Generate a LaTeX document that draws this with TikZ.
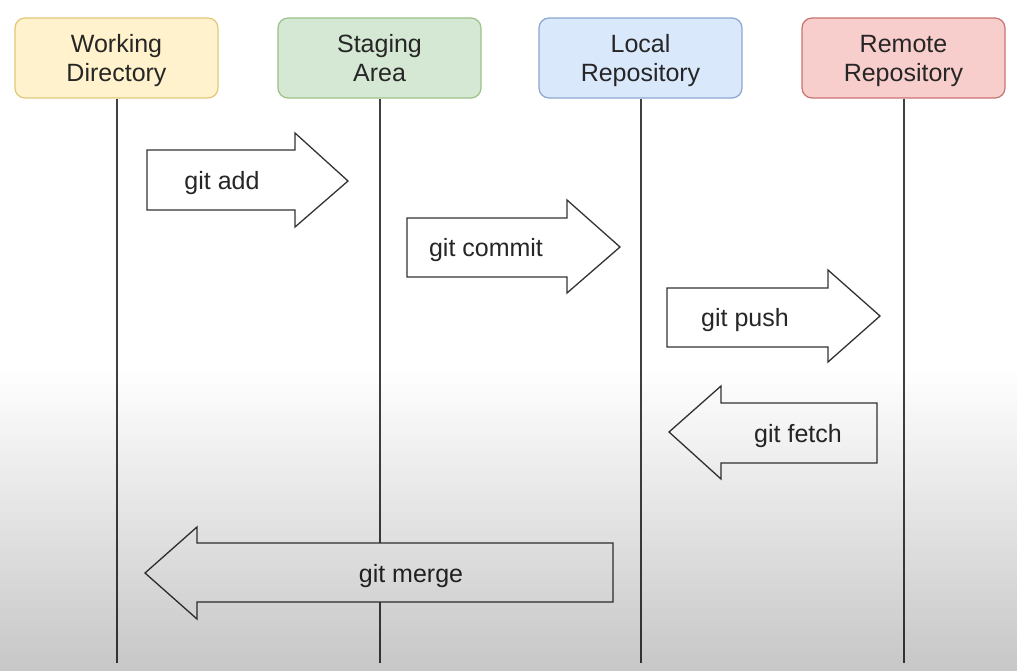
\documentclass[tikz,border=0pt]{standalone}
\usepackage{fontspec}
\setmainfont{Liberation Sans}
\definecolor{yfill}{HTML}{FFF2CC}\definecolor{ydraw}{HTML}{E0C878}
\definecolor{gfill}{HTML}{D5E8D4}\definecolor{gdraw}{HTML}{9CC28A}
\definecolor{bfill}{HTML}{DAE8FC}\definecolor{bdraw}{HTML}{8CA6D0}
\definecolor{rfill}{HTML}{F8CECC}\definecolor{rdraw}{HTML}{C87470}
\newcommand{\lblfont}{\fontsize{25}{29}\selectfont}
\begin{document}
\begin{tikzpicture}[x=1pt,y=-1pt,
  lane/.style={draw, rounded corners=10pt, line width=1.2pt, minimum width=203pt,
    minimum height=80pt, inner sep=0pt},
  lanetext/.style={align=center, font=\lblfont, text=black!85, inner sep=0pt, anchor=base},
  lifeline/.style={draw=black!75, line width=2pt},
  blockarrow/.style={draw=black!80, fill=white, line width=1.3pt, line join=miter},
  cmd/.style={font=\lblfont, text=black!85, inner sep=0pt, anchor=base}]
\useasboundingbox (0,0) rectangle (1017,671);
\fill[white] (0,0) rectangle (1017,671);
% lane heads
\node[lane, fill=yfill, draw=ydraw] (wd) at (116.5,58) {};
\node[lanetext] (wdt) at (116.5,82) {Working\\Directory};
\node[lane, fill=gfill, draw=gdraw] (sa) at (379.5,58) {};
\node[lanetext] (sat) at (379.5,82) {Staging\\Area};
\node[lane, fill=bfill, draw=bdraw] (lr) at (640.5,58) {};
\node[lanetext] (lrt) at (640.5,82) {Local\\Repository};
\node[lane, fill=rfill, draw=rdraw] (rr) at (903.5,58) {};
\node[lanetext] (rrt) at (903.5,82) {Remote\\Repository};
% where the merge arrow body hides the staging lifeline
\coordinate (mtop) at (0,543);
\coordinate (mbot) at (0,602);
% lifelines
\coordinate (bottom) at (0,663);
\draw[lifeline] (wd.south) -- (wd.south |- bottom);
\draw[lifeline] (sa.south) -- (sa.south |- mtop);
\draw[lifeline] (sa.south |- mbot) -- (sa.south |- bottom);
\draw[lifeline] (lr.south) -- (lr.south |- bottom);
\draw[lifeline] (rr.south) -- (rr.south |- bottom);
% block arrows
\draw[blockarrow] (147,150) -- (295,150) -- (295,133) -- (348,181) -- (295,227) -- (295,210) -- (147,210) -- cycle;
\node[cmd] (add) at (222,190) {git add};
\draw[blockarrow] (407,218) -- (567,218) -- (567,200) -- (620,247) -- (567,293) -- (567,277) -- (407,277) -- cycle;
\node[cmd] (commit) at (486,256) {git commit};
\draw[blockarrow] (667,288) -- (828,288) -- (828,270) -- (880,316) -- (828,362) -- (828,347) -- (667,347) -- cycle;
\node[cmd] (push) at (745,326) {git push};
\draw[blockarrow] (877,403) -- (721,403) -- (721,386) -- (669,432) -- (721,479) -- (721,463) -- (877,463) -- cycle;
\node[cmd] (fetch) at (798,442) {git fetch};
\draw[blockarrow] (613,543) -- (197,543) -- (197,527) -- (145,573) -- (197,619) -- (197,602) -- (613,602) -- cycle;
\node[cmd] (merge) at (411,582) {git merge};
% video vignette, as thin strips of growing opacity
\foreach \i in {0,...,100}
  \fill[black, opacity={0.22*(\i+0.5)/101}] (0,{368+3*\i}) rectangle (1017,{371+3*\i});
\end{tikzpicture}
\end{document}
